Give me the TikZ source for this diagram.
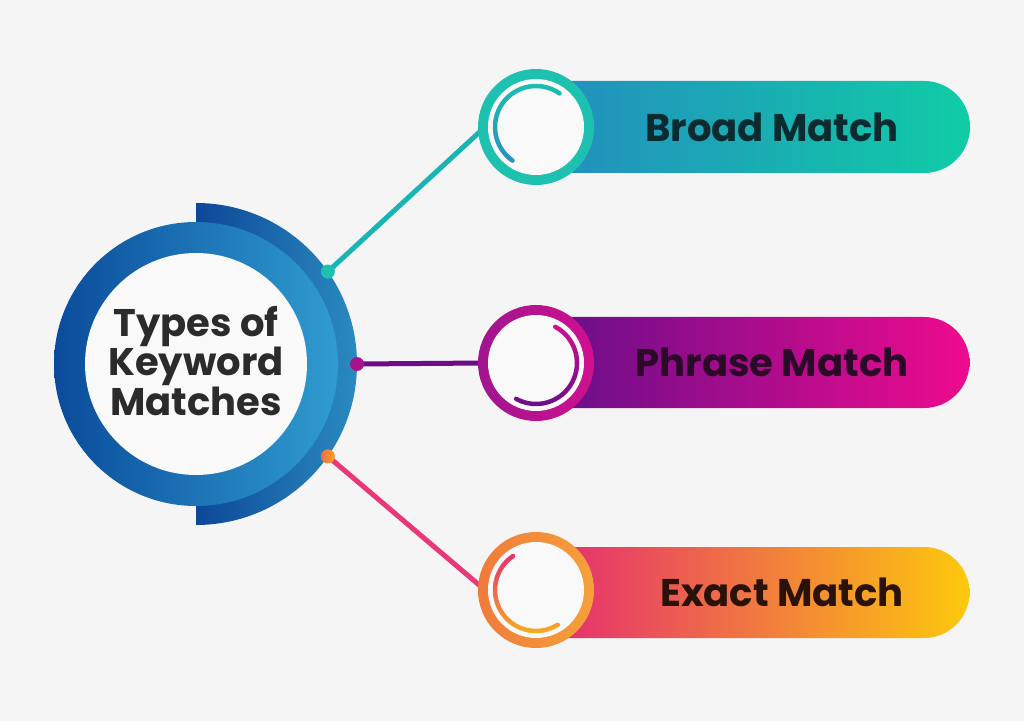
\documentclass[tikz,border=0pt]{standalone}
\usepackage{fontspec}
\setmainfont{Poppins}
\usetikzlibrary{calc}
\definecolor{bg}{HTML}{F5F5F5}
\definecolor{bandL}{HTML}{0D4797}
\definecolor{bandR}{HTML}{2A8BC0}
\definecolor{ringL}{HTML}{0A4B9B}
\definecolor{ringR}{HTML}{2F9CD0}
\definecolor{inner}{HTML}{F9F9F9}
\definecolor{txt}{HTML}{2B2B2B}
\definecolor{brL}{HTML}{2390BE}
\definecolor{brR}{HTML}{10CCA6}
\definecolor{brRing}{HTML}{1EC1B0}
\definecolor{brArcT}{HTML}{1CC0AE}
\definecolor{brArcB}{HTML}{2A8FC0}
\definecolor{brTxt}{HTML}{0B2B30}
\definecolor{brLine}{HTML}{1AB4B6}
\definecolor{phL}{HTML}{6B0E8A}
\definecolor{phR}{HTML}{EE0B8E}
\definecolor{phRingL}{HTML}{A0158F}
\definecolor{phRingR}{HTML}{D0108F}
\definecolor{phArcT}{HTML}{D0108F}
\definecolor{phArcB}{HTML}{6A0F8A}
\definecolor{phTxt}{HTML}{2B0A28}
\definecolor{phLine}{HTML}{6E0C88}
\definecolor{phDot}{HTML}{A8128C}
\definecolor{exL}{HTML}{E5306F}
\definecolor{exM}{HTML}{F0843C}
\definecolor{exR}{HTML}{FDC90C}
\definecolor{exRingL}{HTML}{F07A3C}
\definecolor{exRingR}{HTML}{F5A23A}
\definecolor{exArcT}{HTML}{E6306F}
\definecolor{exArcB}{HTML}{F8B51C}
\definecolor{exTxt}{HTML}{2A1208}
\definecolor{exLine}{HTML}{E8387A}
\definecolor{exDotL}{HTML}{F26A45}
\definecolor{exDotR}{HTML}{F8A52A}
\newcommand\myarc[7]{%
  \shade[top color=#6, bottom color=#7]
    ([shift={(#1,#2)}]#3:43.25) arc[start angle=#3, end angle=#4, radius=43.25]
    arc[start angle=#4, end angle={#4+180*#5}, radius=2.25]
    arc[start angle=#4, end angle=#3, radius=38.75]
    arc[start angle={#3+180}, end angle={#3+180+180*#5}, radius=2.25] -- cycle;}
\tikzset{
  conn/.style={line width=5pt},
  lbl/.style={font=\fontsize{38.6}{42}\selectfont\bfseries, inner sep=0pt},
  bigtxt/.style={font=\fontsize{38.5}{37.5}\selectfont\bfseries, text=txt, align=center, inner sep=0pt}
}
\begin{document}
\begin{tikzpicture}[x=1pt,y=1pt]
\useasboundingbox (0,0) rectangle (1024,721);
\fill[bg] (0,0) rectangle (1024,721);
\coordinate (C) at (196,357);
\coordinate (dB) at ($(C)+(35:161)$);
\coordinate (dP) at ($(C)+(0:161)$);
\coordinate (dE) at ($(C)+(-35:161)$);
\coordinate (cB) at (536,594);
\coordinate (cP) at (536,358);
\coordinate (cE) at (536,131);
\coordinate (eB) at (485,594);
\coordinate (eP) at (485,358);
\coordinate (eE) at (485,131);
% big circle
\shade[left color=bandL, right color=bandR] (196,518) arc[start angle=90, end angle=-90, radius=161] -- cycle;
\shade[left color=ringL, right color=ringR] (C) circle[radius=142];
\fill[inner] (C) circle[radius=111];
% connectors
\draw[conn, brLine] (dB) -- (eB);
\draw[conn, phLine] (dP) -- (eP);
\draw[conn, exLine] (dE) -- (eE);
\fill[brRing] (dB) circle[radius=7];
\fill[phDot] (dP) circle[radius=7];
\shade[left color=exDotL, right color=exDotR] (dE) circle[radius=7];
% pills
\shade[left color=brL, right color=brR] (560,548) -- (924,548) arc[start angle=-90, end angle=90, radius=46] -- (560,640) -- cycle;
\shade[left color=phL, right color=phR] (560,313) -- (924,313) arc[start angle=-90, end angle=90, radius=45.5] -- (560,404) -- cycle;
\shade[left color=exL, middle color=exM, right color=exR] (560,83) -- (924,83) arc[start angle=-90, end angle=90, radius=45.5] -- (560,174) -- cycle;
% small circles
\fill[brRing] (cB) circle[radius=58];
\fill[inner] (cB) circle[radius=48];
\shade[left color=phRingL, right color=phRingR] (cP) circle[radius=58];
\fill[inner] (cP) circle[radius=48];
\shade[left color=exRingL, right color=exRingR] (cE) circle[radius=58];
\fill[inner] (cE) circle[radius=48];
\myarc{536}{594}{55}{235}{1}{brArcT}{brArcB}
\myarc{536}{358}{62}{-119}{-1}{phArcT}{phArcB}
\myarc{536}{131}{124}{302}{1}{exArcT}{exArcB}
% texts
\node[bigtxt] (T) at (196,360) {Types of\\Keyword\\Matches};
\node[lbl, text=brTxt] (B) at (772,594) {Broad Match};
\node[lbl, text=phTxt] (P) at (772,359) {Phrase Match};
\node[lbl, text=exTxt] (E) at (782,129) {Exact Match};
\end{tikzpicture}
\end{document}
